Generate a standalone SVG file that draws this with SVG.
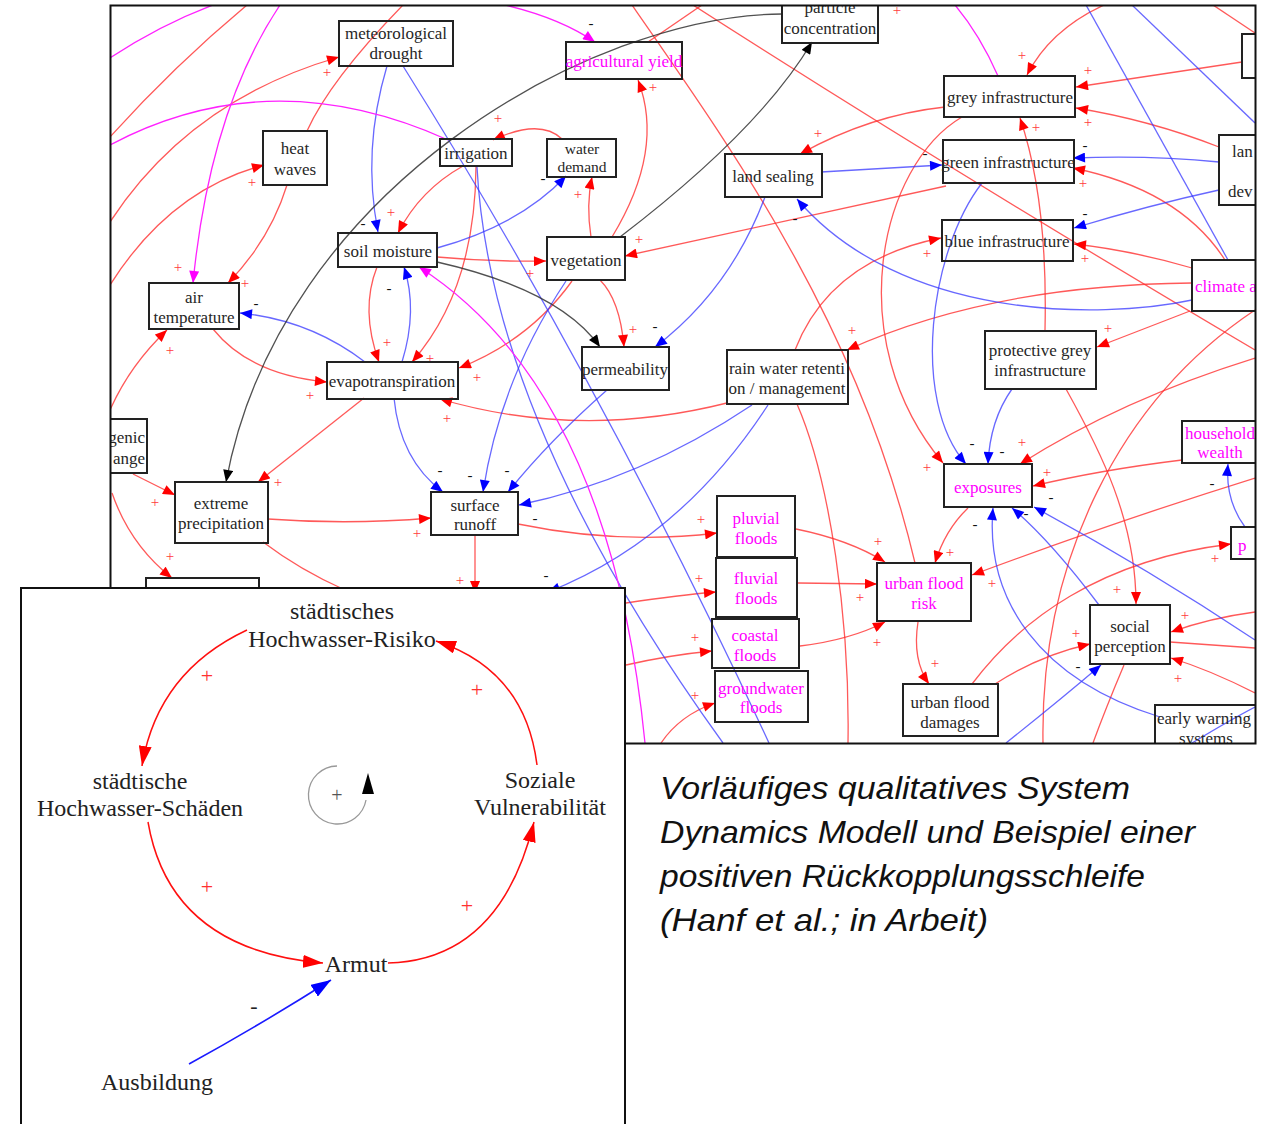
<svg xmlns="http://www.w3.org/2000/svg" width="1263" height="1124" viewBox="0 0 1263 1124">
<style>
.e{fill:none;stroke-width:1.3}
.r{stroke:#ff3030;stroke-opacity:.8}
.b{stroke:#3535ff;stroke-opacity:.75}
.m{stroke:#ff22ff}
.k{stroke:#333;stroke-opacity:.85}
.ra{marker-end:url(#hr)}
.ba{marker-end:url(#hb)}
.ma{marker-end:url(#hm)}
.ka{marker-end:url(#hk)}
.nd rect{fill:none;stroke:#222;stroke-width:2}
.nd text{font-family:"Liberation Serif","Times New Roman",serif;font-size:17px;fill:#262626;text-anchor:middle}
.nd text.mg{fill:#ff00ff}
.nd text.st{text-anchor:start}
.nd text.en{text-anchor:end}
.nd text.sm16{font-size:15.5px}
.sg{font-family:"Liberation Serif","Times New Roman",serif;font-size:15px;text-anchor:middle}
.sp{fill:#ff3c3c}
.sm{fill:#111}
.lt{font-family:"Liberation Serif","Times New Roman",serif;font-size:24px;fill:#222;text-anchor:middle}
.la{fill:none;stroke:#ff1010;stroke-width:1.5}
.cap{font-family:"Liberation Sans",Arial,sans-serif;font-style:italic;font-size:32px;fill:#111}
</style>
<defs>
<marker id="hr" viewBox="0 0 12 10" refX="12" refY="5" markerWidth="13" markerHeight="10" markerUnits="userSpaceOnUse" orient="auto"><path d="M0,0L12,5L0,10Z" fill="#ff0000"/></marker>
<marker id="hb" viewBox="0 0 12 10" refX="12" refY="5" markerWidth="13" markerHeight="10" markerUnits="userSpaceOnUse" orient="auto"><path d="M0,0L12,5L0,10Z" fill="#0000ff"/></marker>
<marker id="hm" viewBox="0 0 12 10" refX="12" refY="5" markerWidth="13" markerHeight="10" markerUnits="userSpaceOnUse" orient="auto"><path d="M0,0L12,5L0,10Z" fill="#ff00ff"/></marker>
<marker id="hk" viewBox="0 0 12 10" refX="12" refY="5" markerWidth="13" markerHeight="10" markerUnits="userSpaceOnUse" orient="auto"><path d="M0,0L12,5L0,10Z" fill="#000"/></marker>
<marker id="bigr" viewBox="0 0 20 13" refX="20" refY="6.5" markerWidth="20" markerHeight="13" markerUnits="userSpaceOnUse" orient="auto"><path d="M0,0L20,6.5L0,13Z" fill="#ff0000"/></marker>
<marker id="bigb" viewBox="0 0 20 14" refX="20" refY="7" markerWidth="20" markerHeight="14" markerUnits="userSpaceOnUse" orient="auto"><path d="M0,0L20,7L0,14Z" fill="#0000ff"/></marker>
<clipPath id="frame"><rect x="111" y="6" width="1144" height="737"/></clipPath>
</defs>
<rect width="1263" height="1124" fill="#fff"/>

<g clip-path="url(#frame)">
<g id="connectors">
<!-- red links -->
<path class="e r" d="M110,137 Q175,65 247,5"/>
<path class="e r ra" d="M110,222 Q190,100 339,57"/>
<path class="e r ra" d="M110,285 Q170,190 264,165"/>
<path class="e r" d="M307,131 Q330,80 403,5"/>
<path class="e r ra" d="M287,185 Q270,240 228,283"/>
<path class="e r ra" d="M562,139 Q540,118 493,140"/>
<path class="e r ra" d="M463,166 Q420,190 398,233"/>
<path class="e r ra" d="M476,167 Q475,290 412,362"/>
<path class="e r ra" d="M437,257 Q490,262 546,261"/>
<path class="e r ra" d="M377,267 Q360,310 379,362"/>
<path class="e r ra" d="M612,237 Q665,150 638,80"/>
<path class="e r ra" d="M591,237 Q586,205 592,177"/>
<path class="e r" d="M648,42 L702,5"/>
<path class="e r" d="M632,5 C740,160 860,330 915,563"/>
<path class="e r" d="M693,5 Q950,170 1255,350"/>
<path class="e r ra" d="M946,186 L625,256"/>
<path class="e r ra" d="M945,107 Q870,115 800,154"/>
<path class="e r ra" d="M1104,5 Q1050,30 1027,75"/>
<path class="e r ra" d="M1242,62 L1076,87"/>
<path class="e r ra" d="M1219,147 Q1150,120 1076,108"/>
<path class="e r ra" d="M1045,330 Q1048,200 1020,118"/>
<path class="e r ra" d="M962,117 C880,165 840,340 943,463"/>
<path class="e r ra" d="M1225,260 Q1180,190 1073,168"/>
<path class="e r ra" d="M1192,268 Q1130,250 1074,244"/>
<path class="e r ra" d="M795,350 Q830,260 941,238"/>
<path class="e r ra" d="M1192,283 Q990,285 847,350"/>
<path class="e r ra" d="M1190,311 L1097,347"/>
<path class="e r ra" d="M1255,358 Q1120,400 1020,464"/>
<path class="e r ra" d="M1182,460 Q1100,470 1033,486"/>
<path class="e r" d="M1255,310 C1120,400 1040,560 1043,743"/>
<path class="e r ra" d="M1066,389 C1100,450 1136,520 1136,604"/>
<path class="e r ra" d="M1255,612 Q1210,618 1171,632"/>
<path class="e r" d="M1170,642 Q1210,645 1255,648"/>
<path class="e r ra" d="M1255,693 Q1210,670 1171,658"/>
<path class="e r" d="M1124,665 Q1105,710 1093,743"/>
<path class="e r ra" d="M1255,478 Q1120,520 972,575"/>
<path class="e r ra" d="M968,508 Q945,530 935,563"/>
<path class="e r ra" d="M796,529 Q850,540 885,562"/>
<path class="e r ra" d="M798,583 L877,584"/>
<path class="e r ra" d="M800,646 Q850,640 885,622"/>
<path class="e r ra" d="M918,622 Q912,660 929,684"/>
<path class="e r ra" d="M972,684 C1020,620 1100,560 1231,544"/>
<path class="e r ra" d="M995,684 Q1040,655 1090,644"/>
<path class="e r" d="M797,404 C830,480 850,620 848,743"/>
<path class="e r ra" d="M626,603 Q680,595 716,592"/>
<path class="e r ra" d="M626,665 Q670,655 712,651"/>
<path class="e r ra" d="M661,743 Q680,715 715,703"/>
<path class="e r ra" d="M518,524 Q620,545 717,533"/>
<path class="e r ra" d="M727,403 Q580,440 440,399"/>
<path class="e r ra" d="M572,281 Q530,340 459,368"/>
<path class="e r ra" d="M600,280 Q620,300 624,347"/>
<path class="e r ra" d="M213,329 Q250,375 327,382"/>
<path class="e r ra" d="M364,398 L258,482"/>
<path class="e r ra" d="M110,410 Q130,365 167,330"/>
<path class="e r ra" d="M133,474 L175,495"/>
<path class="e r ra" d="M112,493 Q130,545 172,578"/>
<path class="e r ra" d="M268,519 Q350,525 431,518"/>
<path class="e r" d="M263,542 Q300,570 345,590"/>
<path class="e r ra" d="M475,534 L475,593"/>
<path class="e r" d="M1213,5 L1255,33"/>
<!-- blue links -->
<path class="e b ba" d="M387,66 Q362,150 378,232"/>
<path class="e b" d="M403,66 Q600,380 769,743"/>
<path class="e b" d="M477,167 Q490,420 723,743"/>
<path class="e b ba" d="M437,248 Q520,225 566,176"/>
<path class="e b ba" d="M765,197 Q730,290 655,347"/>
<path class="e b ba" d="M566,281 Q500,380 483,492"/>
<path class="e b ba" d="M607,390 Q550,440 508,492"/>
<path class="e b ba" d="M752,405 Q640,480 519,505"/>
<path class="e b ba" d="M768,405 Q680,540 548,592"/>
<path class="e b ba" d="M394,398 Q400,460 443,492"/>
<path class="e b ba" d="M402,362 Q418,310 404,267"/>
<path class="e b ba" d="M365,362 Q310,320 240,313"/>
<path class="e b ba" d="M821,172 L942,165"/>
<path class="e b ba" d="M1192,300 C1100,320 900,320 797,199"/>
<path class="e b ba" d="M982,183 C930,250 910,400 966,464"/>
<path class="e b ba" d="M1219,162 Q1150,155 1073,158"/>
<path class="e b ba" d="M1219,190 Q1150,205 1074,228"/>
<path class="e b" d="M1086,5 L1228,260"/>
<path class="e b" d="M1132,5 L1255,123"/>
<path class="e b ba" d="M1012,389 Q990,420 988,464"/>
<path class="e b ba" d="M1160,717 C1040,680 985,600 993,508"/>
<path class="e b ba" d="M1099,605 Q1050,540 1012,508"/>
<path class="e b ba" d="M1255,640 Q1150,570 1034,507"/>
<path class="e b ba" d="M1006,743 Q1060,700 1101,665"/>
<path class="e b" d="M1192,743 Q1230,720 1255,707"/>
<path class="e b ba" d="M1245,527 Q1225,500 1228,464"/>
<!-- magenta links -->
<path class="e m" d="M110,58 Q160,25 213,5"/>
<path class="e m ma" d="M280,5 Q210,110 193,283"/>
<path class="e m" d="M110,145 Q270,60 448,140"/>
<path class="e m ma" d="M505,5 Q560,18 595,42"/>
<path class="e m ma" d="M645,743 Q610,390 419,267"/>
<path class="e m" d="M998,76 Q980,35 955,5"/>
<!-- black links -->
<path class="e k ka" d="M782,14 C590,15 280,190 226,482"/>
<path class="e k ka" d="M620,237 Q760,130 812,42"/>
<path class="e k ka" d="M437,262 Q560,290 600,347"/>
<!-- polarity signs -->
<g class="sg sp">
<text x="327" y="77">+</text><text x="252" y="187">+</text><text x="498" y="123">+</text><text x="391" y="217">+</text>
<text x="178" y="272">+</text><text x="245" y="288">+</text><text x="653" y="92">+</text><text x="578" y="199">+</text>
<text x="639" y="244">+</text><text x="530" y="278">+</text><text x="818" y="138">+</text><text x="927" y="258">+</text>
<text x="897" y="15">+</text><text x="1022" y="60">+</text><text x="1088" y="75">+</text><text x="1088" y="127">+</text>
<text x="1036" y="132">+</text><text x="1083" y="188">+</text><text x="1085" y="263">+</text><text x="170" y="355">+</text>
<text x="387" y="347">+</text><text x="430" y="363">+</text><text x="477" y="382">+</text><text x="310" y="400">+</text>
<text x="447" y="423">+</text><text x="278" y="487">+</text><text x="155" y="507">+</text><text x="170" y="561">+</text>
<text x="417" y="538">+</text><text x="460" y="585">+</text><text x="633" y="334">+</text><text x="852" y="335">+</text>
<text x="927" y="472">+</text><text x="1108" y="333">+</text><text x="1022" y="447">+</text><text x="1047" y="477">+</text>
<text x="950" y="557">+</text><text x="1215" y="563">+</text><text x="992" y="588">+</text><text x="1117" y="594">+</text>
<text x="701" y="524">+</text><text x="699" y="583">+</text><text x="695" y="642">+</text><text x="695" y="700">+</text>
<text x="878" y="546">+</text><text x="860" y="602">+</text><text x="877" y="647">+</text><text x="935" y="668">+</text>
<text x="1076" y="638">+</text><text x="1185" y="620">+</text><text x="1178" y="683">+</text>
</g>
<g class="sg sm">
<text x="363" y="228">-</text><text x="543" y="183">-</text><text x="591" y="28">-</text><text x="389" y="293">-</text>
<text x="256" y="308">-</text><text x="440" y="475">-</text><text x="470" y="480">-</text><text x="507" y="475">-</text>
<text x="535" y="523">-</text><text x="546" y="580">-</text><text x="655" y="331">-</text><text x="795" y="223">-</text>
<text x="925" y="158">-</text><text x="1085" y="150">-</text><text x="1085" y="218">-</text><text x="972" y="448">-</text>
<text x="1002" y="456">-</text><text x="1051" y="502">-</text><text x="1026" y="518">-</text><text x="975" y="529">-</text>
<text x="1078" y="671">-</text><text x="1212" y="488">-</text>
</g>
</g>

<g id="n-met-drought" class="nd"><rect x="339" y="21" width="114" height="45"/><text x="396" y="39">meteorological</text><text x="396" y="59">drought</text></g>
<g id="n-agri-yield" class="nd"><rect x="566" y="42" width="116" height="37"/><text class="mg" x="624" y="67">agricultural yield</text></g>
<g id="n-particle" class="nd"><rect x="782" y="-10" width="96" height="53"/><text x="830" y="13">particle</text><text x="830" y="34">concentration</text></g>
<g id="n-grey-infra" class="nd"><rect x="944" y="76" width="131" height="41"/><text x="1010" y="103">grey infrastructure</text></g>
<g id="n-edge-top" class="nd"><rect x="1242" y="34" width="40" height="44"/></g>
<g id="n-heat-waves" class="nd"><rect x="263" y="131" width="64" height="54"/><text x="295" y="154">heat</text><text x="295" y="175">waves</text></g>
<g id="n-irrigation" class="nd"><rect x="440" y="139" width="72" height="27"/><text x="476" y="159">irrigation</text></g>
<g id="n-water-demand" class="nd"><rect x="547" y="139" width="69" height="38"/><text class="sm16" x="582" y="154">water</text><text class="sm16" x="582" y="172">demand</text></g>
<g id="n-land-sealing" class="nd"><rect x="725" y="154" width="97" height="43"/><text x="773" y="182">land sealing</text></g>
<g id="n-green-infra" class="nd"><rect x="943" y="140" width="131" height="43"/><text x="1008" y="168">green infrastructure</text></g>
<g id="n-land-dev" class="nd"><rect x="1219" y="135" width="60" height="70"/><text class="st" x="1232" y="157">lan</text><text class="st" x="1228" y="197">dev</text></g>
<g id="n-soil-moisture" class="nd"><rect x="338" y="233" width="99" height="34"/><text x="388" y="257">soil moisture</text></g>
<g id="n-vegetation" class="nd"><rect x="547" y="237" width="78" height="43"/><text x="586" y="266">vegetation</text></g>
<g id="n-blue-infra" class="nd"><rect x="942" y="220" width="131" height="41"/><text x="1007" y="247">blue infrastructure</text></g>
<g id="n-climate" class="nd"><rect x="1192" y="260" width="80" height="51"/><text class="mg st" x="1195" y="292">climate a</text></g>
<g id="n-air-temp" class="nd"><rect x="149" y="283" width="90" height="46"/><text x="194" y="303">air</text><text x="194" y="323">temperature</text></g>
<g id="n-evapo" class="nd"><rect x="327" y="362" width="131" height="37"/><text x="392" y="387">evapotranspiration</text></g>
<g id="n-permeability" class="nd"><rect x="582" y="347" width="87" height="43"/><text x="625" y="375">permeability</text></g>
<g id="n-rain-water" class="nd"><rect x="727" y="350" width="121" height="54"/><text x="787" y="374">rain water retenti</text><text x="787" y="394">on / management</text></g>
<g id="n-protective-grey" class="nd"><rect x="985" y="331" width="111" height="58"/><text x="1040" y="356">protective grey</text><text x="1040" y="376">infrastructure</text></g>
<g id="n-household" class="nd"><rect x="1182" y="421" width="90" height="42"/><text class="mg" x="1220" y="439">household</text><text class="mg" x="1220" y="458">wealth</text></g>
<g id="n-genic" class="nd"><rect x="100" y="419" width="47" height="54"/><text class="en" x="145" y="443">genic</text><text class="en" x="145" y="464">ange</text></g>
<g id="n-exposures" class="nd"><rect x="944" y="464" width="88" height="43"/><text class="mg" x="988" y="493">exposures</text></g>
<g id="n-extreme-precip" class="nd"><rect x="175" y="482" width="93" height="61"/><text x="221" y="509">extreme</text><text x="221" y="529">precipitation</text></g>
<g id="n-surface-runoff" class="nd"><rect x="431" y="492" width="87" height="43"/><text x="475" y="511">surface</text><text x="475" y="530">runoff</text></g>
<g id="n-pluvial" class="nd"><rect x="717" y="496" width="78" height="61"/><text class="mg" x="756" y="524">pluvial</text><text class="mg" x="756" y="544">floods</text></g>
<g id="n-p" class="nd"><rect x="1231" y="527" width="40" height="32"/><text class="mg st" x="1238" y="551">p</text></g>
<g id="n-fluvial" class="nd"><rect x="716" y="558" width="81" height="59"/><text class="mg" x="756" y="584">fluvial</text><text class="mg" x="756" y="604">floods</text></g>
<g id="n-urban-risk" class="nd"><rect x="877" y="563" width="94" height="58"/><text class="mg" x="924" y="589">urban flood</text><text class="mg" x="924" y="609">risk</text></g>
<g id="n-coastal" class="nd"><rect x="712" y="619" width="87" height="49"/><text class="mg" x="755" y="641">coastal</text><text class="mg" x="755" y="661">floods</text></g>
<g id="n-social-perception" class="nd"><rect x="1090" y="605" width="80" height="59"/><text x="1130" y="632">social</text><text x="1130" y="652">perception</text></g>
<g id="n-groundwater" class="nd"><rect x="715" y="671" width="93" height="51"/><text class="mg" x="761" y="694">groundwater</text><text class="mg" x="761" y="713">floods</text></g>
<g id="n-urban-damages" class="nd"><rect x="903" y="684" width="95" height="52"/><text x="950" y="708">urban flood</text><text x="950" y="728">damages</text></g>
<g id="n-early-warning" class="nd"><rect x="1155" y="705" width="110" height="45"/><text x="1204" y="724">early warning</text><text x="1206" y="744">systems</text></g>
<g id="n-bottom-left" class="nd"><rect x="146" y="578" width="113" height="30"/></g>
</g>
<rect x="110.5" y="5.5" width="1145" height="738" fill="none" stroke="#111" stroke-width="2"/>

<!-- reinforcing loop panel -->
<g id="loop-panel">
<rect x="21" y="588" width="604" height="545" fill="#fff" stroke="#111" stroke-width="2"/>
<path class="la" d="M247,630 Q157.5,672 142,766" marker-end="url(#bigr)"/>
<path class="la" d="M148,822 Q170,950 323,963" marker-end="url(#bigr)"/>
<path class="la" d="M388,963 Q500,960 534,822" marker-end="url(#bigr)"/>
<path class="la" d="M537,765 Q525,670 436,641" marker-end="url(#bigr)"/>
<path d="M189,1064 Q260,1025 331,980" fill="none" stroke="#1a1aff" stroke-width="1.6" marker-end="url(#bigb)"/>
<g font-family="'Liberation Serif','Times New Roman',serif" font-size="22" text-anchor="middle" fill="#ff3030">
<text x="207" y="683">+</text><text x="207" y="894">+</text><text x="467" y="913">+</text><text x="477" y="697">+</text>
</g>
<text x="254" y="1013" font-family="'Liberation Serif','Times New Roman',serif" font-size="22" text-anchor="middle" fill="#222">-</text>
<g id="loop-marker">
<path d="M337,766 A29,29 0 1,0 366,800" fill="none" stroke="#999" stroke-width="1.3"/>
<polygon points="368,773 374,794 362,794" fill="#000"/>
<text x="337" y="802" font-family="'Liberation Serif','Times New Roman',serif" font-size="20" text-anchor="middle" fill="#555">+</text>
</g>
<g id="v-risiko"><text class="lt" x="342" y="619">städtisches</text><text class="lt" x="342" y="647">Hochwasser-Risiko</text></g>
<g id="v-schaeden"><text class="lt" x="140" y="789">städtische</text><text class="lt" x="140" y="816">Hochwasser-Schäden</text></g>
<g id="v-vulnerabilitaet"><text class="lt" x="540" y="788">Soziale</text><text class="lt" x="540" y="815">Vulnerabilität</text></g>
<g id="v-armut"><text class="lt" x="356" y="972">Armut</text></g>
<g id="v-ausbildung"><text class="lt" x="157" y="1090">Ausbildung</text></g>
</g>

<g id="caption" class="cap">
<text x="660" y="799" textLength="470" lengthAdjust="spacingAndGlyphs">Vorläufiges qualitatives System</text>
<text x="660" y="843" textLength="535" lengthAdjust="spacingAndGlyphs">Dynamics Modell und Beispiel einer</text>
<text x="660" y="887" textLength="485" lengthAdjust="spacingAndGlyphs">positiven Rückkopplungsschleife</text>
<text x="660" y="931" textLength="328" lengthAdjust="spacingAndGlyphs">(Hanf et al.; in Arbeit)</text>
</g>
</svg>
